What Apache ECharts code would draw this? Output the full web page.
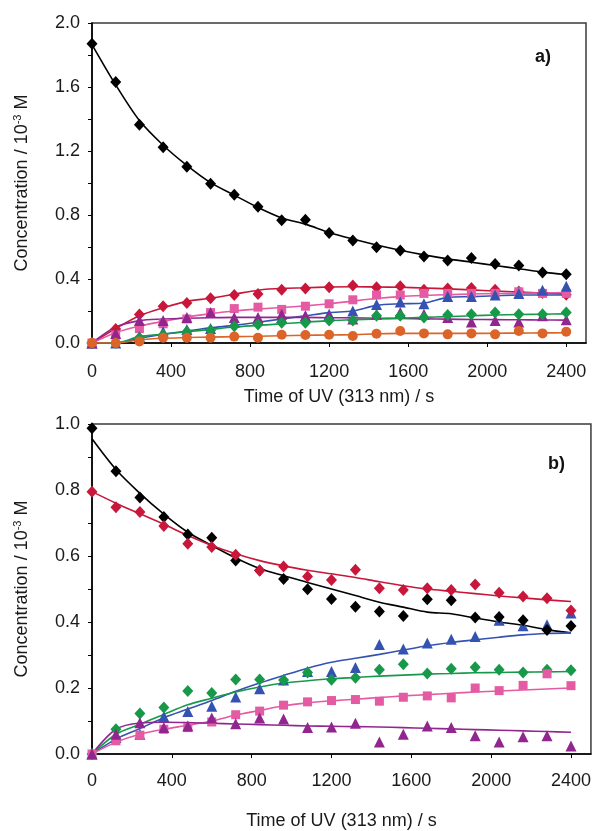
<!DOCTYPE html>
<html><head><meta charset="utf-8">
<script src="https://cdn.jsdelivr.net/npm/echarts@6.0.0/dist/echarts.min.js"></script>
<style>html,body{margin:0;padding:0;background:#fff}#c{width:594px;height:831px}</style>
</head><body><div id="c"></div>
<script>
// Sampling times (s)
const times = [0,120,240,360,480,600,720,840,960,1080,1200,1320,1440,1560,1680,1800,1920,2040,2160,2280,2400];

// ---- Panel a) : measured points ----
const aBlack  = [1.871,1.632,1.364,1.224,1.101,0.996,0.926,0.851,0.767,0.770,0.688,0.640,0.598,0.578,0.540,0.516,0.532,0.493,0.484,0.441,0.430];
const aRed    = [0,0.088,0.178,0.23,0.25,0.28,0.30,0.306,0.333,0.34,0.348,0.36,0.348,0.354,0.333,0.34,0.344,0.333,0.322,0.312,0.302];
const aPink   = [0,0.05,0.09,0.12,0.15,0.19,0.215,0.224,0.21,0.23,0.245,0.27,0.30,0.30,0.31,0.31,0.31,0.31,0.32,0.31,0.31];
const aBlue   = [0,0,0.04,0.07,0.085,0.09,0.13,0.15,0.16,0.168,0.18,0.20,0.24,0.257,0.245,0.29,0.29,0.30,0.31,0.33,0.354];
const aPurple = [0,0.06,0.14,0.14,0.16,0.19,0.16,0.16,0.18,0.17,0.17,0.15,0.18,0.19,0.18,0.16,0.132,0.14,0.132,0.17,0.145];
const aGreen  = [0,0,0.033,0.05,0.07,0.08,0.105,0.116,0.126,0.126,0.14,0.14,0.17,0.17,0.16,0.175,0.18,0.19,0.18,0.18,0.19];
const aOrange = [0,0,0.01,0.033,0.033,0.033,0.04,0.033,0.052,0.05,0.052,0.044,0.058,0.075,0.06,0.054,0.06,0.054,0.075,0.06,0.07];
// ---- Panel a) : fitted curves ----
const aBlackFit  = [1.865,1.613,1.39,1.236,1.11,1.002,0.924,0.847,0.782,0.743,0.691,0.65,0.613,0.58,0.551,0.526,0.505,0.484,0.464,0.443,0.427];
const aRedFit    = [0,0.09,0.17,0.22,0.26,0.28,0.305,0.33,0.342,0.345,0.35,0.352,0.35,0.348,0.344,0.338,0.332,0.325,0.318,0.312,0.306];
const aPinkFit   = [0,0.064,0.106,0.135,0.163,0.183,0.2,0.212,0.222,0.232,0.245,0.262,0.278,0.29,0.297,0.302,0.306,0.309,0.311,0.313,0.315];
const aBlueFit   = [0,0,0.03,0.055,0.075,0.095,0.11,0.13,0.15,0.17,0.19,0.2,0.235,0.245,0.25,0.285,0.29,0.295,0.3,0.3,0.302];
const aPurpleFit = [0,0.1,0.14,0.15,0.155,0.158,0.16,0.16,0.16,0.16,0.158,0.157,0.155,0.153,0.151,0.149,0.147,0.146,0.145,0.144,0.143];
const aGreenFit  = [0,0,0.04,0.055,0.07,0.085,0.1,0.11,0.12,0.13,0.14,0.145,0.15,0.155,0.16,0.165,0.17,0.175,0.178,0.18,0.182];
const aOrangeFit = [0,0,0.02,0.03,0.034,0.037,0.04,0.042,0.045,0.048,0.05,0.052,0.057,0.06,0.06,0.06,0.06,0.061,0.062,0.063,0.064];

// ---- Panel b) : measured points ----
const bBlack  = [0.987,0.857,0.777,0.718,0.665,0.655,0.586,0.556,0.530,0.499,0.470,0.446,0.432,0.418,0.469,0.466,0.414,0.415,0.405,0.376,0.388];
const bRed    = [0.795,0.748,0.733,0.691,0.637,0.627,0.604,0.556,0.568,0.538,0.527,0.558,0.502,0.497,0.502,0.497,0.514,0.489,0.477,0.472,0.435];
const bBlue   = [0,0.05,0.06,0.114,0.129,0.145,0.173,0.198,0.224,0.25,0.25,0.262,0.332,0.318,0.336,0.348,0.356,0.405,0.389,0.392,0.427];
const bGreen  = [0,0.075,0.123,0.141,0.191,0.185,0.226,0.226,0.224,0.247,0.225,0.231,0.255,0.272,0.244,0.258,0.263,0.255,0.247,0.255,0.254];
const bPink   = [0,0.04,0.057,0.075,0.08,0.097,0.119,0.13,0.148,0.158,0.162,0.165,0.16,0.172,0.176,0.17,0.2,0.192,0.208,0.243,0.207];
const bPurple = [0,0.06,0.095,0.08,0.085,0.109,0.092,0.109,0.106,0.08,0.082,0.093,0.036,0.06,0.085,0.08,0.055,0.036,0.052,0.055,0.024];
// ---- Panel b) : fitted curves ----
const bBlackFit  = [0.955,0.862,0.79,0.727,0.672,0.632,0.594,0.562,0.54,0.52,0.50,0.48,0.46,0.445,0.43,0.425,0.412,0.40,0.39,0.377,0.367];
const bRedFit    = [0.795,0.76,0.728,0.696,0.662,0.632,0.607,0.586,0.57,0.557,0.546,0.535,0.522,0.51,0.5,0.493,0.486,0.479,0.473,0.467,0.462];
const bBlueFit   = [0,0.045,0.077,0.11,0.136,0.162,0.19,0.215,0.238,0.26,0.278,0.29,0.302,0.315,0.328,0.338,0.346,0.354,0.361,0.365,0.367];
const bGreenFit  = [0,0.06,0.09,0.12,0.149,0.169,0.188,0.203,0.215,0.222,0.228,0.232,0.236,0.239,0.242,0.244,0.246,0.247,0.248,0.249,0.25];
const bPinkFit   = [0,0.036,0.06,0.075,0.087,0.1,0.118,0.132,0.146,0.155,0.161,0.166,0.171,0.176,0.18,0.184,0.188,0.191,0.194,0.197,0.2];
const bPurpleFit = [0,0.075,0.094,0.096,0.095,0.093,0.091,0.089,0.087,0.085,0.084,0.083,0.082,0.08,0.078,0.076,0.074,0.072,0.07,0.068,0.066];

const xTitle = 'Time of UV (313 nm) / s';
const xTicks = [0,400,800,1200,1600,2000,2400];

const C = {black:'#000000', red:'#c8173a', pink:'#e45aa3', blue:'#3453b0', purple:'#92268f', green:'#17994a', orange:'#dc6428'};
const FONT = 'Liberation Sans, Arial, sans-serif';
const TXT = '#1a1a1a';

function pts(vals){ return times.map((t,i)=>[t, vals[i]]); }

function xAxis(gi, gap, margin){
  return {type:'value', gridIndex:gi, min:0, max:2500, interval:400,
    axisLine:{show:true, onZero:false, lineStyle:{color:'#000', width:1.6}},
    axisTick:{show:true, length:4, lineStyle:{color:'#000', width:1}},
    axisLabel:{color:TXT, fontSize:18, fontFamily:FONT, margin:margin, showMaxLabel:false,
      formatter:v => xTicks.indexOf(v) >= 0 ? String(v) : ''},
    splitLine:{show:false},
    name:xTitle, nameLocation:'middle', nameGap:gap, nameMoveOverlap:false,
    nameTextStyle:{color:TXT, fontSize:18, fontFamily:FONT}};
}
function yAxis(gi, max, step, labelEvery){
  return {type:'value', gridIndex:gi, min:0, max:max, interval:step,
    axisLine:{show:true, onZero:false, lineStyle:{color:'#000', width:1.6}},
    axisTick:{show:true, length:4, lineStyle:{color:'#000', width:1}},
    axisLabel:{color:TXT, fontSize:18, fontFamily:FONT, margin:12,
      formatter:v => (Math.round(v*10) % labelEvery === 0) ? v.toFixed(1) : ''},
    splitLine:{show:false},
    name:'{a|Concentration / 10}{s|-3}{a| M}', nameLocation:'middle', nameGap:60, nameMoveOverlap:false,
    nameTextStyle:{color:TXT, fontFamily:FONT,
      rich:{a:{fontSize:18, lineHeight:20, fontFamily:FONT, color:TXT},
            s:{fontSize:11, lineHeight:11, verticalAlign:'top', fontFamily:FONT, color:TXT}}}};
}
function sc(gi, vals, color, symbol, size){
  return {type:'scatter', xAxisIndex:gi, yAxisIndex:gi, data:pts(vals), symbol:symbol, symbolSize:size,
    itemStyle:{color:color, opacity:1}, z:4, silent:true};
}
function ln(gi, vals, color){
  return {type:'line', xAxisIndex:gi, yAxisIndex:gi, data:pts(vals), showSymbol:false, smooth:0.3,
    lineStyle:{color:color, width:1.6}, z:3, silent:true};
}
const DIA = [11,12], TRI = 11, SQ = 9, CIR = 10;

const chart = echarts.init(document.getElementById('c'), null, {renderer:'canvas'});
chart.setOption({
  animation:false,
  backgroundColor:'#ffffff',
  grid:[
    {left:92, top:23, width:494, height:320, show:true, borderColor:'#3a3a3a', borderWidth:1.5, backgroundColor:'#fff'},
    {left:92, top:424, width:499, height:338, show:true, borderColor:'#3a3a3a', borderWidth:1.5, backgroundColor:'#fff'}
  ],
  xAxis:[xAxis(0, 45, 20), xAxis(1, 58, 18)],
  yAxis:[yAxis(0, 2.0, 0.2, 4), yAxis(1, 1.0, 0.1, 2)],
  series:[
    ln(0, aBlackFit, C.black), ln(0, aRedFit, C.red), ln(0, aPinkFit, C.pink), ln(0, aBlueFit, C.blue),
    ln(0, aPurpleFit, C.purple), ln(0, aGreenFit, C.green), ln(0, aOrangeFit, C.orange),
    sc(0, aBlack, C.black, 'diamond', DIA), sc(0, aRed, C.red, 'diamond', DIA),
    sc(0, aPink, C.pink, 'rect', SQ), sc(0, aBlue, C.blue, 'triangle', TRI),
    sc(0, aPurple, C.purple, 'triangle', TRI), sc(0, aGreen, C.green, 'diamond', DIA),
    sc(0, aOrange, C.orange, 'circle', CIR),

    ln(1, bBlackFit, C.black), ln(1, bRedFit, C.red), ln(1, bBlueFit, C.blue),
    ln(1, bGreenFit, C.green), ln(1, bPinkFit, C.pink), ln(1, bPurpleFit, C.purple),
    sc(1, bBlue, C.blue, 'triangle', TRI), sc(1, bBlack, C.black, 'diamond', DIA),
    sc(1, bRed, C.red, 'diamond', DIA), sc(1, bGreen, C.green, 'diamond', DIA),
    sc(1, bPink, C.pink, 'rect', SQ), sc(1, bPurple, C.purple, 'triangle', TRI)
  ],
  graphic:[
    {type:'text', left:535, top:48, style:{text:'a)', fontSize:18, fontWeight:'bold', fontFamily:FONT, fill:'#111'}},
    {type:'text', left:548, top:455, style:{text:'b)', fontSize:18, fontWeight:'bold', fontFamily:FONT, fill:'#111'}}
  ]
});
</script>
</body></html>
